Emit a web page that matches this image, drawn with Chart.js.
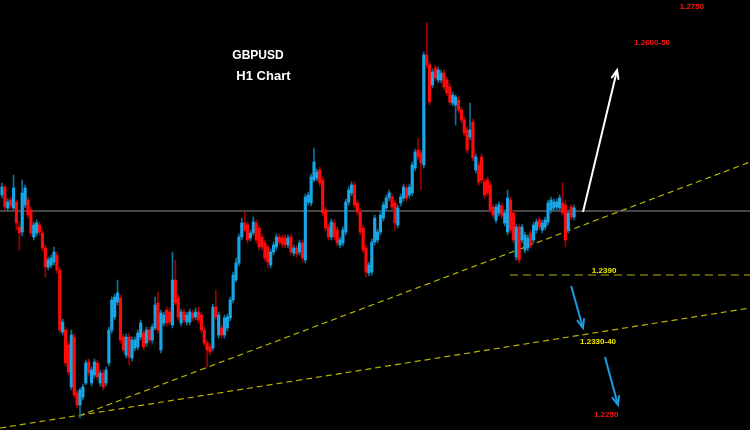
<!DOCTYPE html>
<html>
<head>
<meta charset="utf-8">
<script src="https://cdn.jsdelivr.net/npm/chart.js@4.4.1/dist/chart.umd.min.js"></script>
<style>
  html, body { margin: 0; padding: 0; background: #000; }
  #wrap { width: 750px; height: 430px; }
</style>
</head>
<body>
<div id="wrap"><canvas id="chart" width="750" height="430"></canvas></div>
<script>
// ── GBPUSD H1 candles ──────────────────────────────────────────────────────

const open = [
  1.2469, 1.2477, 1.2456, 1.2464, 1.2456, 1.2462, 1.2437, 1.2432, 1.2459, 1.2464,
  1.2454, 1.2427, 1.2431, 1.2439, 1.2431, 1.2416, 1.2397, 1.2399, 1.2402, 1.2409,
  1.2394, 1.2332, 1.2334, 1.2319, 1.2277, 1.2327, 1.2271, 1.2259, 1.2267, 1.2281,
  1.2302, 1.2281, 1.2289, 1.2301, 1.2281, 1.2291, 1.2281, 1.2301, 1.2334, 1.2347,
  1.2362, 1.2366, 1.2327, 1.2309, 1.2327, 1.2306, 1.2316, 1.2317, 1.2327, 1.2331,
  1.2321, 1.2334, 1.2324, 1.2336, 1.2361, 1.2314, 1.2341, 1.2354, 1.2352, 1.2339,
  1.2384, 1.2366, 1.2341, 1.2352, 1.2342, 1.2342, 1.2351, 1.2347, 1.2352, 1.2349,
  1.2334, 1.2321, 1.2317, 1.2316, 1.2357, 1.2329, 1.2336, 1.2329, 1.2336, 1.2346,
  1.2364, 1.2384, 1.2401, 1.2427, 1.2441, 1.2439, 1.2426, 1.2431, 1.2441, 1.2436,
  1.2427, 1.2421, 1.2417, 1.2399, 1.2412, 1.2417, 1.2427, 1.2426, 1.2426, 1.2419,
  1.2427, 1.2411, 1.2416, 1.2412, 1.2421, 1.2404, 1.2462, 1.2461, 1.2484, 1.2486,
  1.2494, 1.2484, 1.2454, 1.2437, 1.2427, 1.2441, 1.2434, 1.2419, 1.2421, 1.2432,
  1.2462, 1.2471, 1.2479, 1.2461, 1.2452, 1.2436, 1.2416, 1.2391, 1.2392, 1.2422,
  1.2424, 1.2432, 1.2446, 1.2456, 1.2466, 1.2467, 1.2461, 1.2439,
  1.2461, 1.2466, 1.2476, 1.2469, 1.2471, 1.2496, 1.2514,
  1.2511, 1.2499, 1.2609, 1.2599, 1.2579, 1.2596, 1.2584, 1.2584, 1.2591, 1.2584,
  1.2577, 1.2561, 1.2559, 1.2564, 1.2554, 1.2544, 1.2534, 1.2527, 1.2542, 1.2494, 1.2499,
  1.2507, 1.2482, 1.2484, 1.2479, 1.2457, 1.2444, 1.2451, 1.2458, 1.2441, 1.2432, 1.2464,
  1.2451, 1.2407, 1.2437, 1.2424, 1.2414, 1.2416, 1.2431, 1.2424, 1.2434, 1.2444, 1.2434,
  1.2437, 1.2442, 1.2454, 1.2456, 1.2457, 1.2456, 1.2461, 1.2459, 1.2434, 1.2457,
  1.2447
];
const high = [
  1.2481, 1.2479, 1.2465, 1.2467, 1.2489, 1.2464, 1.2442, 1.2484, 1.2479, 1.2467,
  1.2457, 1.2442, 1.2444, 1.2442, 1.2434, 1.2419, 1.2407, 1.2409, 1.2417, 1.2412,
  1.2397, 1.2345, 1.2337, 1.2322, 1.2334, 1.2330, 1.2274, 1.2276, 1.2280, 1.2304,
  1.2305, 1.2297, 1.2305, 1.2304, 1.2294, 1.2294, 1.2297, 1.2337, 1.2367, 1.2370,
  1.2384, 1.2369, 1.2330, 1.2330, 1.2331, 1.2327, 1.2327, 1.2334, 1.2344, 1.2334,
  1.2337, 1.2337, 1.2340, 1.2367, 1.2372, 1.2354, 1.2352, 1.2357, 1.2356, 1.2412,
  1.2404, 1.2369, 1.2355, 1.2355, 1.2352, 1.2355, 1.2354, 1.2356, 1.2357, 1.2352,
  1.2337, 1.2324, 1.2320, 1.2360, 1.2374, 1.2352, 1.2339, 1.2349, 1.2350, 1.2367,
  1.2392, 1.2406, 1.2430, 1.2446, 1.2452, 1.2442, 1.2434, 1.2447, 1.2444, 1.2439,
  1.2430, 1.2424, 1.2419, 1.2415, 1.2422, 1.2430, 1.2430, 1.2429, 1.2429, 1.2429,
  1.2430, 1.2419, 1.2419, 1.2424, 1.2424, 1.2470, 1.2472, 1.2490, 1.2516, 1.2495,
  1.2497, 1.2487, 1.2457, 1.2440, 1.2445, 1.2444, 1.2437, 1.2427, 1.2437, 1.2465,
  1.2477, 1.2482, 1.2482, 1.2464, 1.2455, 1.2439, 1.2419, 1.2402, 1.2425, 1.2449,
  1.2435, 1.2452, 1.2462, 1.2469, 1.2474, 1.2470, 1.2464, 1.2459,
  1.2470, 1.2480, 1.2479, 1.2480, 1.2502, 1.2515, 1.2526,
  1.2514, 1.2612, 1.2641, 1.2602, 1.2595, 1.2599, 1.2597, 1.2594, 1.2594, 1.2587,
  1.2580, 1.2572, 1.2569, 1.2567, 1.2557, 1.2547, 1.2537, 1.2561, 1.2545, 1.2510, 1.2502,
  1.2510, 1.2485, 1.2487, 1.2482, 1.2460, 1.2460, 1.2462, 1.2461, 1.2454, 1.2474, 1.2467,
  1.2454, 1.2440, 1.2440, 1.2440, 1.2432, 1.2429, 1.2434, 1.2442, 1.2445, 1.2447, 1.2444,
  1.2447, 1.2464, 1.2467, 1.2465, 1.2465, 1.2469, 1.2481, 1.2464, 1.2454, 1.2460,
  1.2459
];
const low = [
  1.2466, 1.2454, 1.2453, 1.2455, 1.2454, 1.2434, 1.2414, 1.2428, 1.2456, 1.2446,
  1.2428, 1.2424, 1.2428, 1.2429, 1.2413, 1.2387, 1.2394, 1.2396, 1.2399, 1.2391,
  1.2331, 1.2329, 1.2298, 1.2289, 1.2274, 1.2266, 1.2256, 1.2246, 1.2264, 1.2279,
  1.2288, 1.2278, 1.2286, 1.2284, 1.2278, 1.2274, 1.2278, 1.2298, 1.2331, 1.2344,
  1.2359, 1.2321, 1.2311, 1.2306, 1.2299, 1.2303, 1.2313, 1.2314, 1.2324, 1.2314,
  1.2318, 1.2321, 1.2321, 1.2334, 1.2331, 1.2311, 1.2338, 1.2338, 1.2339, 1.2336,
  1.2359, 1.2344, 1.2338, 1.2341, 1.2339, 1.2339, 1.2343, 1.2344, 1.2341, 1.2331,
  1.2318, 1.2297, 1.2309, 1.2313, 1.2344, 1.2326, 1.2326, 1.2326, 1.2333, 1.2343,
  1.2361, 1.2382, 1.2398, 1.2424, 1.2432, 1.2421, 1.2423, 1.2429, 1.2421, 1.2414,
  1.2414, 1.2403, 1.2396, 1.2396, 1.2409, 1.2414, 1.2419, 1.2417, 1.2416, 1.2416,
  1.2409, 1.2408, 1.2407, 1.2409, 1.2402, 1.2401, 1.2459, 1.2458, 1.2482, 1.2483,
  1.2478, 1.2448, 1.2433, 1.2424, 1.2424, 1.2424, 1.2418, 1.2416, 1.2418, 1.2429,
  1.2459, 1.2468, 1.2456, 1.2449, 1.2429, 1.2411, 1.2387, 1.2388, 1.2389, 1.2419,
  1.2421, 1.2429, 1.2443, 1.2453, 1.2463, 1.2454, 1.2434, 1.2436,
  1.2458, 1.2463, 1.2463, 1.2466, 1.2468, 1.2493, 1.2504,
  1.2474, 1.2496, 1.2596, 1.2559, 1.2576, 1.2583, 1.2581, 1.2581, 1.2574, 1.2568,
  1.2559, 1.2558, 1.2539, 1.2551, 1.2541, 1.2528, 1.2511, 1.2524, 1.2503, 1.2491, 1.2479,
  1.2481, 1.2466, 1.2468, 1.2451, 1.2446, 1.2441, 1.2448, 1.2446, 1.2438, 1.2429, 1.2431,
  1.2421, 1.2404, 1.2401, 1.2421, 1.2411, 1.2413, 1.2416, 1.2421, 1.2431, 1.2434, 1.2431,
  1.2434, 1.2439, 1.2451, 1.2453, 1.2454, 1.2453, 1.2449, 1.2417, 1.2431, 1.2444,
  1.2444
];
const close = [
  1.2477, 1.2457, 1.2462, 1.2458, 1.2476, 1.2441, 1.2431, 1.2471, 1.2476, 1.2449,
  1.2431, 1.2439, 1.2441, 1.2432, 1.2416, 1.2397, 1.2404, 1.2406, 1.2412, 1.2394,
  1.2334, 1.2342, 1.2301, 1.2292, 1.2329, 1.2269, 1.2259, 1.2274, 1.2277, 1.2301,
  1.2291, 1.2294, 1.2302, 1.2287, 1.2291, 1.2277, 1.2294, 1.2334, 1.2364, 1.2367,
  1.2371, 1.2324, 1.2314, 1.2327, 1.2307, 1.2324, 1.2324, 1.2331, 1.2341, 1.2317,
  1.2334, 1.2324, 1.2337, 1.2359, 1.2334, 1.2351, 1.2349, 1.2341, 1.2342, 1.2384,
  1.2361, 1.2347, 1.2352, 1.2344, 1.2349, 1.2352, 1.2346, 1.2352, 1.2344, 1.2334,
  1.2321, 1.2314, 1.2312, 1.2357, 1.2347, 1.2349, 1.2329, 1.2346, 1.2347, 1.2364,
  1.2389, 1.2401, 1.2427, 1.2441, 1.2434, 1.2424, 1.2431, 1.2442, 1.2424, 1.2417,
  1.2417, 1.2406, 1.2402, 1.2412, 1.2419, 1.2427, 1.2422, 1.2420, 1.2419, 1.2426,
  1.2412, 1.2416, 1.2410, 1.2421, 1.2406, 1.2467, 1.2469, 1.2487, 1.2502, 1.2492,
  1.2481, 1.2451, 1.2436, 1.2427, 1.2442, 1.2427, 1.2421, 1.2424, 1.2434, 1.2462,
  1.2474, 1.2479, 1.2459, 1.2452, 1.2432, 1.2414, 1.2392, 1.2399, 1.2422, 1.2446,
  1.2432, 1.2449, 1.2459, 1.2466, 1.2471, 1.2457, 1.2441, 1.2456,
  1.2467, 1.2477, 1.2466, 1.2477, 1.2499, 1.2512, 1.2507,
  1.2501, 1.2609, 1.2599, 1.2562, 1.2592, 1.2586, 1.2594, 1.2591, 1.2577, 1.2571,
  1.2562, 1.2569, 1.2567, 1.2554, 1.2544, 1.2531, 1.2514, 1.2534, 1.2506, 1.2507, 1.2482,
  1.2484, 1.2469, 1.2471, 1.2454, 1.2449, 1.2457, 1.2459, 1.2449, 1.2451, 1.2466, 1.2434,
  1.2424, 1.2437, 1.2404, 1.2437, 1.2429, 1.2426, 1.2419, 1.2439, 1.2442, 1.2437, 1.2441,
  1.2444, 1.2461, 1.2464, 1.2462, 1.2462, 1.2466, 1.2451, 1.2424, 1.2451, 1.2447,
  1.2456
];

// ── Drawn objects (x = bar index, y = price) ─────────────────────────────────

const X_MIN = -0.69;
const X_MAX = 258.9;
const Y_MIN = 1.2234;
const Y_MAX = 1.2664;

const levelPrice = 1.2453;          // grey horizontal
const target1390 = [175.8, 1.2389]; // yellow dashed level from this bar to the right edge
const trendSteep = [[26.5, 1.2248], [X_MAX, 1.2502]];
const trendFlat = [[X_MIN, 1.2236], [X_MAX, 1.2356]];
const arrowUp = [[201.1, 1.2452], [212.9, 1.2594]];
const arrowDown1 = [[197.0, 1.2378], [201.1, 1.2336]];
const arrowDown2 = [[208.7, 1.2307], [213.2, 1.2259]];

const labelText = ['GBPUSD', 'H1 Chart', '1.2750', '1.2600-50', '1.2390', '1.2330-40', '1.2250'];
const labelX = [88.6, 90.5, 238.8, 225.0, 208.4, 206.3, 209.1];
const labelY = [1.2608, 1.2588, 1.2657, 1.2621, 1.2393, 1.2322, 1.2249];
const labelColor = ['#ffffff', '#ffffff', '#ff1010', '#ff1010', '#f2ea00', '#f2ea00', '#ff1010'];
const labelFont = ['bold 12px "Liberation Sans"', 'bold 13px "Liberation Sans"',
  'bold 8px "Liberation Sans"', 'bold 8px "Liberation Sans"', 'bold 8px "Liberation Sans"',
  'bold 8px "Liberation Sans"', 'bold 8px "Liberation Sans"'];

const BULL = '#19a6e6';
const BEAR = '#ff0a0a';
const BULL_WICK = '#0f6f98';
const BEAR_WICK = '#a00000';
const YELLOW = '#b8b200';

// ── Plugins ────────────────────────────────────────────────────────────────

const bgPlugin = {
  id: 'bg',
  beforeDraw(chart) {
    const { ctx, width, height } = chart;
    ctx.save();
    ctx.fillStyle = '#000';
    ctx.fillRect(0, 0, width, height);
    ctx.restore();
  },
};

// pointe de flèche ouverte au dernier point des datasets marqués arrow
const arrowHeadPlugin = {
  id: 'arrowHead',
  afterDatasetsDraw(chart) {
    const { ctx } = chart;
    chart.data.datasets.forEach((ds, i) => {
      if (!ds.arrow) return;
      const pts = chart.getDatasetMeta(i).data;
      const a = pts[pts.length - 2], b = pts[pts.length - 1];
      const ang = Math.atan2(b.y - a.y, b.x - a.x);
      const len = 9, spread = 0.38;
      ctx.save();
      ctx.strokeStyle = ds.borderColor;
      ctx.lineWidth = ds.borderWidth;
      ctx.lineCap = 'round';
      ctx.beginPath();
      ctx.moveTo(b.x - len * Math.cos(ang - spread), b.y - len * Math.sin(ang - spread));
      ctx.lineTo(b.x, b.y);
      ctx.lineTo(b.x - len * Math.cos(ang + spread), b.y - len * Math.sin(ang + spread));
      ctx.stroke();
      ctx.restore();
    });
  },
};

const labelPlugin = {
  id: 'labels',
  afterDraw(chart) {
    const { ctx, scales } = chart;
    ctx.save();
    ctx.textAlign = 'center';
    ctx.textBaseline = 'middle';
    labelText.forEach((t, i) => {
      ctx.font = labelFont[i];
      ctx.fillStyle = labelColor[i];
      ctx.fillText(t, scales.x.getPixelForValue(labelX[i]), scales.y.getPixelForValue(labelY[i]));
    });
    ctx.restore();
  },
};

// ── Chart ──────────────────────────────────────────────────────────────────

const idx = open.map((_, i) => i);
const candleColor = idx.map(i => (close[i] >= open[i] ? BULL : BEAR));
const wickColor = idx.map(i => (close[i] >= open[i] ? BULL_WICK : BEAR_WICK));

const seg = (p) => p.map(([x, y]) => ({ x, y }));

new Chart(document.getElementById('chart'), {
  type: 'bar',
  plugins: [bgPlugin, arrowHeadPlugin, labelPlugin],
  data: {
    datasets: [
      {
        type: 'line',
        data: seg([[X_MIN, levelPrice], [X_MAX, levelPrice]]),
        borderColor: '#8c8c8c',
        borderWidth: 1,
        pointRadius: 0,
        order: 5,
      },
      {
        type: 'line',
        data: seg(trendSteep),
        borderColor: YELLOW,
        borderWidth: 1.2,
        borderDash: [6, 4],
        pointRadius: 0,
        order: 5,
      },
      {
        type: 'line',
        data: seg(trendFlat),
        borderColor: YELLOW,
        borderWidth: 1.2,
        borderDash: [6, 4],
        pointRadius: 0,
        order: 5,
      },
      {
        type: 'line',
        data: seg([target1390, [X_MAX, target1390[1]]]),
        borderColor: YELLOW,
        borderWidth: 1.2,
        borderDash: [8, 5],
        pointRadius: 0,
        order: 5,
      },
      {
        type: 'bar',
        data: idx.map(i => ({ x: i, y: [low[i], high[i]] })),
        backgroundColor: wickColor,
        barThickness: 1,
        grouped: false,
        order: 4,
      },
      {
        type: 'bar',
        data: idx.map(i => ({ x: i, y: [open[i], close[i]] })),
        backgroundColor: candleColor,
        barThickness: 2.5,
        grouped: false,
        order: 3,
      },
      {
        type: 'line',
        arrow: true,
        data: seg(arrowUp),
        borderColor: '#ffffff',
        borderWidth: 2,
        pointRadius: 0,
        order: 1,
      },
      {
        type: 'line',
        arrow: true,
        data: seg(arrowDown1),
        borderColor: '#1c9be0',
        borderWidth: 2,
        pointRadius: 0,
        order: 1,
      },
      {
        type: 'line',
        arrow: true,
        data: seg(arrowDown2),
        borderColor: '#1c9be0',
        borderWidth: 2,
        pointRadius: 0,
        order: 1,
      },
    ],
  },
  options: {
    responsive: false,
    animation: false,
    layout: { padding: 0 },
    plugins: { legend: { display: false }, tooltip: { enabled: false } },
    scales: {
      x: { type: 'linear', min: X_MIN, max: X_MAX, offset: false, display: false },
      y: { type: 'linear', min: Y_MIN, max: Y_MAX, display: false },
    },
  },
});
</script>
</body>
</html>
